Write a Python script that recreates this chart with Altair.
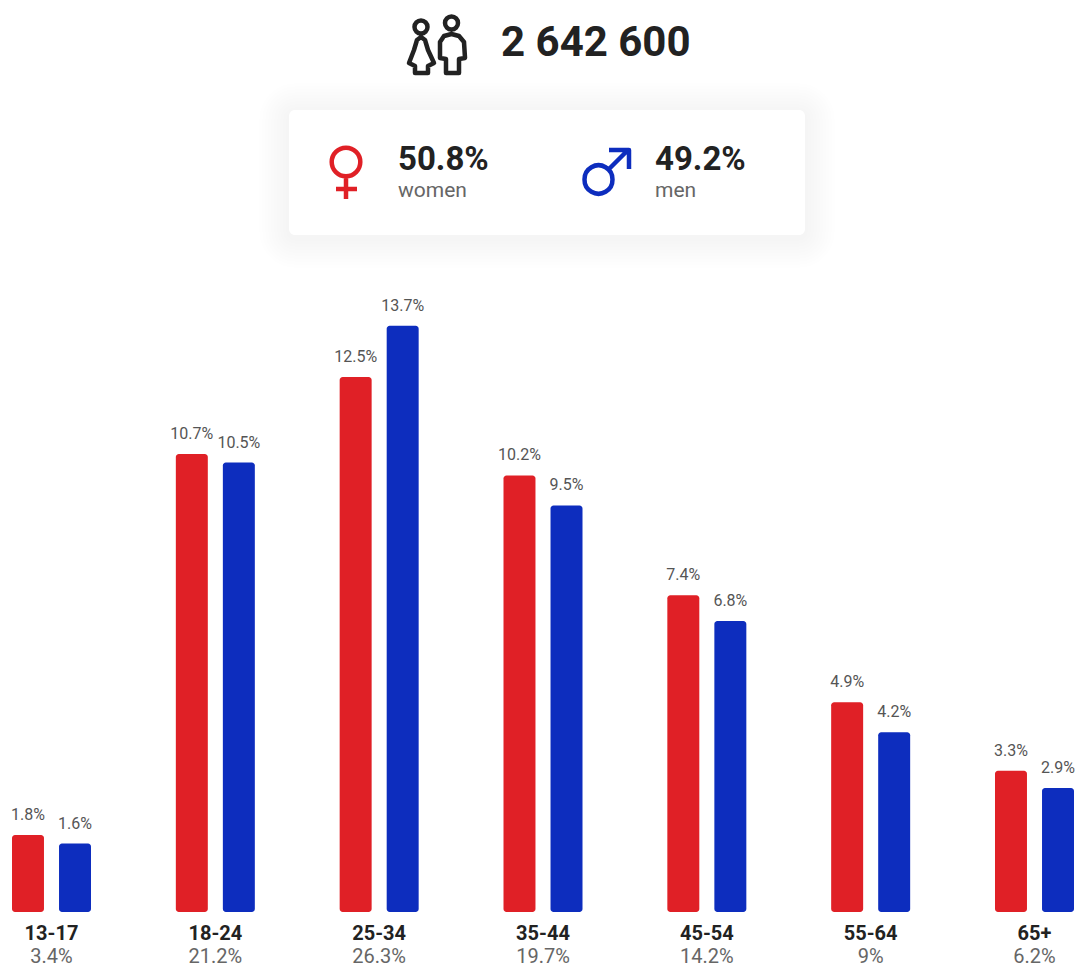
import altair as alt
import pandas as pd

ages = ["13-17", "18-24", "25-34", "35-44", "45-54", "55-64", "65+"]
age_totals = ["3.4%", "21.2%", "26.3%", "19.7%", "14.2%", "9%", "6.2%"]
women = [1.8, 10.7, 12.5, 10.2, 7.4, 4.9, 3.3]
men = [1.6, 10.5, 13.7, 9.5, 6.8, 4.2, 2.9]
value_labels_w = ["1.8%", "10.7%", "12.5%", "10.2%", "7.4%", "4.9%", "3.3%"]
value_labels_m = ["1.6%", "10.5%", "13.7%", "9.5%", "6.8%", "4.2%", "2.9%"]
total_text = "2 642 600"
share_w, share_m = "50.8%", "49.2%"
label_w, label_m = "women", "men"

RED, BLUE = "#e02026", "#0d2dbe"
INK, GREY = "#222222", "#666666"
FONT = "Roboto"
W, H = 1068, 962
OFF = 8
PX = 42.8  # pixels per percentage point, used only for the y domain
BASE = 912 - OFF

rows = []
for i, a in enumerate(ages):
    rows.append(dict(age=a, g="women", v=women[i], lab=value_labels_w[i]))
    rows.append(dict(age=a, g="men", v=men[i], lab=value_labels_m[i]))
bars_df = pd.DataFrame(rows)
cats_df = pd.DataFrame(dict(age=ages, total=age_totals))

x_enc = alt.X("age:N", sort=ages, axis=None,
              scale=alt.Scale(domain=ages, range=[4, 1066], paddingInner=0.5178, paddingOuter=0))
off_enc = alt.XOffset("g:N", sort=["women", "men"],
                      scale=alt.Scale(domain=["women", "men"], paddingInner=0.32, paddingOuter=0))
y_enc = alt.Y("v:Q", stack=None, axis=None,
              scale=alt.Scale(domain=[-(H - BASE) / PX, BASE / PX], nice=False, zero=False))
col_enc = alt.Color("g:N", legend=None, scale=alt.Scale(domain=["women", "men"], range=[RED, BLUE]))

bars = alt.Chart(bars_df).mark_bar(cornerRadius=3).encode(x=x_enc, xOffset=off_enc, y=y_enc, y2=alt.Y2(datum=0), color=col_enc)
bar_labels = alt.Chart(bars_df).mark_text(font=FONT, fontSize=16, color="#555555", baseline="bottom", dy=-12).encode(
    x=x_enc, xOffset=off_enc, y=y_enc, text="lab:N")
cat_labels = alt.Chart(cats_df).mark_text(font=FONT, fontSize=20, fontWeight="bold", color=INK, baseline="middle").encode(
    x=x_enc, y=alt.value(934 - OFF), text="age:N")
tot_labels = alt.Chart(cats_df).mark_text(font=FONT, fontSize=20, color=GREY, baseline="middle").encode(
    x=x_enc, y=alt.value(957 - OFF), text="total:N")

one = pd.DataFrame({"a": [0]})

def txt(s, x, y, size, color, weight="normal"):
    return alt.Chart(pd.DataFrame({"t": [s]})).mark_text(
        font=FONT, fontSize=size, color=color, fontWeight=weight, align="left", baseline="middle"
    ).encode(x=alt.value(x - OFF), y=alt.value(y - OFF), text="t:N")

def card(x0, x1, y0, y1, color, opacity, r):
    return alt.Chart(one).mark_rect(color=color, opacity=opacity, cornerRadius=r).encode(
        x=alt.value(x0 - OFF), x2=alt.value(x1 - OFF), y=alt.value(y0 - OFF), y2=alt.value(y1 - OFF))

shadows = [card(289 - s, 805 + s, 110 - s + 3, 235 + s + 3, "#000000", 0.003, 6 + s) for s in range(30, 0, -3)]
panel = card(289, 805, 110, 235, "#ffffff", 1, 6)

def fmt(v):
    return f"{v:.4f}"

def circle(cx, cy, r, c0, c1, half):
    a = lambda x, y: f"{fmt((x - c0) / half)} {fmt((y - c1) / half)}"
    rr = fmt(r / half)
    return f"M{a(cx - r, cy)}A{rr} {rr} 0 1 0 {a(cx + r, cy)}A{rr} {rr} 0 1 0 {a(cx - r, cy)}Z"

def poly(pts, c0, c1, half, close=False):
    s = "M" + "L".join(f"{fmt((x - c0) / half)} {fmt((y - c1) / half)}" for x, y in pts)
    return s + ("Z" if close else "")

def icon(path, cx, cy, half, color, sw):
    return alt.Chart(one).mark_point(shape=path, size=(2 * half) ** 2, filled=False, opacity=1,
                                     stroke=color, strokeWidth=sw, strokeJoin="round").encode(
        x=alt.value(cx - OFF), y=alt.value(cy - OFF))

# couple icon
c = (437, 45, 35)
couple = (
    circle(421, 27, 6.5, *c)
    + circle(451.5, 23, 6.5, *c)
    + poly([(421, 37), (425, 40), (428, 50), (434, 63), (428, 66), (428, 73), (415, 73), (415, 66), (409, 63), (414, 50), (417, 40)], *c, close=True)
    + poly([(451.5, 34), (459, 36), (464, 42), (465, 58), (459, 59), (459, 73), (446, 73), (446, 59), (440, 58), (440, 42), (444, 36)], *c, close=True)
)
# venus
v = (346, 172, 30)
venus = circle(346, 162, 14.3, *v) + poly([(346, 176), (346, 199)], *v) + poly([(336, 189), (357, 189)], *v)
# mars
m = (607, 172, 30)
mars = circle(598.5, 179.5, 14, *m) + poly([(609, 169), (628, 150)], *m) + poly([(609, 150), (629, 150), (629, 169)], *m)

chart = alt.layer(
    *shadows, panel,
    icon(couple, *c, INK, 4.5),
    txt(total_text, 501, 43, 42, INK, "bold"),
    icon(venus, *v, RED, 4.5),
    txt(share_w, 398, 160, 33, INK, "bold"),
    txt(label_w, 398, 191, 21, GREY),
    icon(mars, *m, BLUE, 4.5),
    txt(share_m, 655, 160, 33, INK, "bold"),
    txt(label_m, 655, 191, 21, GREY),
    bars, bar_labels, cat_labels, tot_labels,
).properties(width=W, height=H, padding=0, autosize=alt.AutoSizeParams(type="none"), background="#ffffff"
).configure_view(stroke=None)

chart.save("out.html", embed_options={"renderer": "svg", "actions": False})
